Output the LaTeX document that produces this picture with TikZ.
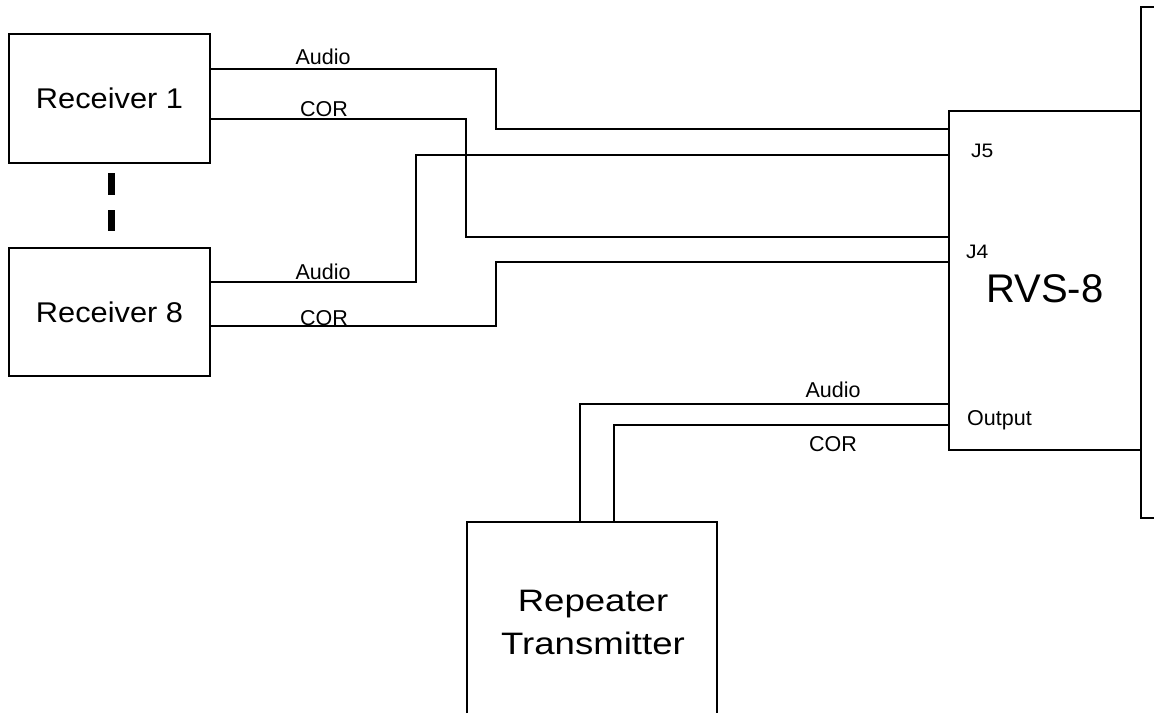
\documentclass[tikz,border=0pt]{standalone}
\usepackage{fontspec}
\setmainfont{Liberation Sans}
\newfontfamily\rxfont[FakeStretch=1.08]{Liberation Sans}
\newfontfamily\txfont[FakeStretch=1.18]{Liberation Sans}
\tikzset{
  box/.style={draw, line width=1.4pt, inner sep=0pt, outer sep=0pt},
  wire/.style={line width=1.4pt},
  lbl/.style={inner sep=0pt, anchor=base, font=\fontsize{21.5}{26}\selectfont},
  portlbl/.style={inner sep=0pt, anchor=base west, font=\rxfont\fontsize{19.5}{24}\selectfont},
  rxtext/.style={font=\rxfont\fontsize{28.5}{34}\selectfont},
}
\begin{document}
\begin{tikzpicture}[x=1pt,y=-1pt]
\useasboundingbox (0,0) rectangle (1154,713);
% receivers
\node[box, rxtext, minimum width=201pt, minimum height=129pt] (r1) at (109.5,98.5) {Receiver 1};
\node[box, rxtext, minimum width=201pt, minimum height=128pt] (r8) at (109.5,312) {Receiver 8};
% dashes between receivers
\coordinate (d1a) at (111.5,173);
\coordinate (d1b) at (111.5,195);
\coordinate (d2a) at (111.5,210);
\coordinate (d2b) at (111.5,231);
\draw[line width=7pt] (d1a) -- (d1b);
\draw[line width=7pt] (d2a) -- (d2b);
% RVS-8
\node[box, minimum width=192pt, minimum height=339pt] (rvs) at (1045,280.5) {};
\draw[wire] (1154,7) -- (1141,7) -- (1141,518) -- (1154,518);
\node[inner sep=0pt, anchor=base west, font=\fontsize{40}{48}\selectfont] (rvst) at (986,302) {RVS-8};
\node[portlbl] (j5) at (971,157) {J5};
\node[portlbl] (j4) at (966,258) {J4};
\node[inner sep=0pt, anchor=base west, font=\fontsize{21.5}{26}\selectfont] (outl) at (967,425) {Output};
% transmitter
\draw[wire] (467,713) -- (467,522) -- (717,522) -- (717,713);
\node[inner sep=0pt, align=center, font=\txfont\fontsize{31}{43}\selectfont] (tx) at (593,622) {Repeater\\Transmitter};
% ports
\coordinate (r1a) at (210,69);
\coordinate (r1c) at (210,119);
\coordinate (r8a) at (210,282);
\coordinate (r8c) at (210,326);
\coordinate (j5a) at (949,129);
\coordinate (j5b) at (949,155);
\coordinate (j4a) at (949,237);
\coordinate (j4b) at (949,262);
\coordinate (oa) at (949,404);
\coordinate (oc) at (949,425);
\coordinate (ta) at (580,522);
\coordinate (tc) at (614,522);
% wires
\draw[wire] (r1a) -- (496,69) -- (496,129) -- (j5a);
\draw[wire] (r1c) -- (466,119) -- (466,237) -- (j4a);
\draw[wire] (r8a) -- (416,282) -- (416,155) -- (j5b);
\draw[wire] (r8c) -- (496,326) -- (496,262) -- (j4b);
\draw[wire] (oa) -- (580,404) -- (ta);
\draw[wire] (oc) -- (614,425) -- (tc);
% wire labels
\node[lbl] (l1) at (323,64) {Audio};
\node[lbl] (l2) at (324,116) {COR};
\node[lbl] (l3) at (323,279) {Audio};
\node[lbl] (l4) at (324,325) {COR};
\node[lbl] (l5) at (833,397) {Audio};
\node[lbl] (l6) at (833,451) {COR};
\end{tikzpicture}
\end{document}
